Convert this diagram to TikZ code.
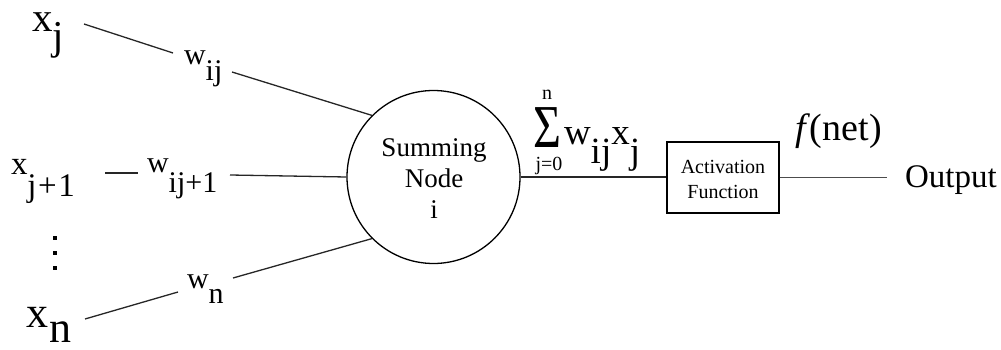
\documentclass[tikz,border=0pt]{standalone}
\usepackage{fontspec}
\setmainfont{Liberation Serif}
\usepackage{graphicx}
\newcommand{\fs}[1]{\fontsize{#1pt}{#1pt}\selectfont}
\begin{document}
\begin{tikzpicture}[x=1pt,y=-1pt,
  lbl/.style={anchor=base west,inner sep=0pt,outer sep=0pt},
  ctr/.style={anchor=base,inner sep=0pt,outer sep=0pt},
  wire/.style={line width=1.3pt,draw=black!85},
  dotmark/.style={fill=black,inner sep=0pt,minimum size=4.5pt,rectangle}]
\useasboundingbox (0,0) rectangle (1001,350);
% summing node
\node[circle,draw,line width=1.3pt,minimum size=173pt,inner sep=0pt] (sum) at (433.5,177) {};
\node[ctr] (t1) at (434,157) {\fs{27}Summing};
\node[ctr] (t2) at (434,187) {\fs{27}Node};
\node[ctr] (t3) at (434,218) {\fs{27}i};
% inputs
\node[lbl] (xj) at (32,32) {\fs{41}x\raisebox{-18pt}{j}};
\node[lbl] (xj1) at (11,175) {\fs{33}x\raisebox{-21pt}{j\kern1.5pt+\kern1.5pt1}};
\node[lbl] (xn) at (27,327) {\fs{44}x\raisebox{-15pt}{n}};
\node[dotmark] (d1) at (55,238) {};
\node[dotmark] (d2) at (55,253) {};
\node[dotmark] (d3) at (55,268) {};
% weights
\node[lbl] (wij) at (184,65) {\fs{30}w\raisebox{-16pt}{ij}};
\node[lbl] (wij1) at (147,172) {\fs{30}w\raisebox{-20pt}{ij+1}};
\node[lbl] (wn) at (187,288) {\fs{30}w\raisebox{-15pt}{n}};
% wire coordinates
\coordinate (a1) at (84,24);
\coordinate (a2) at (173,53);
\coordinate (a3) at (232,72);
\coordinate (b1) at (105,173);
\coordinate (b2) at (138,173);
\coordinate (b3) at (230,175);
\coordinate (c1) at (85,319);
\coordinate (c2) at (178,292);
\coordinate (c3) at (233,278);
\draw[wire] (a1) -- (a2);
\draw[wire] (a3) -- (sum.135);
\draw[wire] (b1) -- (b2);
\draw[wire] (b3) -- (sum.west);
\draw[wire] (c1) -- (c2);
\draw[wire] (c3) -- (sum.225);
% activation box
\node[draw,line width=1.3pt,minimum width=112pt,minimum height=71pt,inner sep=0pt] (act) at (723,177.5) {};
\node[ctr] (a1t) at (723,173) {\fs{20}Activation};
\node[ctr] (a2t) at (723,198) {\fs{20}Function};
\draw[wire] (sum.east) -- (sum.east -| act.west);
\coordinate (oend) at (887,177.5);
\draw[wire,draw=black!70,line width=1.6pt] (act.east) -- (oend);
% sum formula
\node[lbl] (sig) at (533,147) {\scalebox{1}[1.27]{\fs{48}Σ}};
\node[ctr] (sn) at (547,100) {\fs{20}n};
\node[ctr] (sj) at (549,171) {\fs{20}j=0};
\node[lbl] (swx) at (564,145) {\fs{37}w\raisebox{-18pt}{ij}x\raisebox{-18pt}{j}};
% f(net) and output
\node[lbl] (fnet) at (795,141) {\fs{38}\textit{f}(net)};
\node[lbl] (out) at (905,187) {\fs{33}Output};
\end{tikzpicture}
\end{document}
